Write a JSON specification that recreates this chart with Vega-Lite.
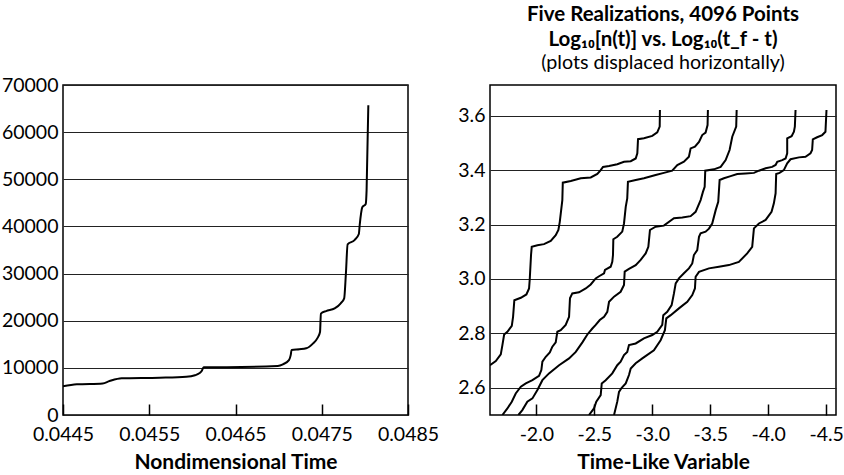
{
  "$schema": "https://vega.github.io/schema/vega-lite/v6.json",
  "background": "white",
  "padding": {"left": 0, "top": 4, "right": 0, "bottom": 0},
  "config": {
    "font": "Lato",
    "view": {"stroke": "#000", "strokeWidth": 1.5},
    "axis": {
      "labelFont": "Lato", "labelFontSize": 19.5, "labelColor": "#000",
      "titleFont": "Lato", "titleFontSize": 21, "titleFontWeight": "bold", "titleColor": "#000",
      "grid": false, "domain": false, "ticks": false, "labelOverlap": false, "labelFlush": false
    }
  },
  "bounds": "flush",
  "spacing": 82,
  "datasets": {
    "left": [
      {"t": 0.04450, "n": 6100}, {"t": 0.04466, "n": 6500}, {"t": 0.04496, "n": 6700}, {"t": 0.04504, "n": 7200},
      {"t": 0.04518, "n": 7780}, {"t": 0.04562, "n": 7900}, {"t": 0.04593, "n": 8100}, {"t": 0.04603, "n": 8420},
      {"t": 0.04608, "n": 8850}, {"t": 0.04611, "n": 9400}, {"t": 0.04613, "n": 10150}, {"t": 0.04640, "n": 10150},
      {"t": 0.04699, "n": 10400}, {"t": 0.04705, "n": 10750}, {"t": 0.04712, "n": 11650}, {"t": 0.04714, "n": 12700},
      {"t": 0.04715, "n": 13800}, {"t": 0.04724, "n": 13950}, {"t": 0.04732, "n": 14150}, {"t": 0.04740, "n": 15200},
      {"t": 0.04745, "n": 16300}, {"t": 0.04748, "n": 17600}, {"t": 0.04749, "n": 21500}, {"t": 0.04755, "n": 22050},
      {"t": 0.04765, "n": 22600}, {"t": 0.04772, "n": 23700}, {"t": 0.04776, "n": 24750}, {"t": 0.04778, "n": 30000},
      {"t": 0.04780, "n": 36200}, {"t": 0.04788, "n": 37100}, {"t": 0.04793, "n": 38400}, {"t": 0.04794, "n": 40300},
      {"t": 0.04797, "n": 44050}, {"t": 0.04801, "n": 44750}, {"t": 0.04802, "n": 47700}, {"t": 0.04804, "n": 65700}
    ],
    "right": [
      {"s": "A", "i": 0, "x": -1.600, "y": 2.683}, {"s": "A", "i": 1, "x": -1.650, "y": 2.698}, {"s": "A", "i": 2, "x": -1.693, "y": 2.723},
      {"s": "A", "i": 3, "x": -1.707, "y": 2.757}, {"s": "A", "i": 4, "x": -1.722, "y": 2.796}, {"s": "A", "i": 5, "x": -1.750, "y": 2.806},
      {"s": "A", "i": 6, "x": -1.788, "y": 2.828}, {"s": "A", "i": 7, "x": -1.799, "y": 2.861}, {"s": "A", "i": 8, "x": -1.810, "y": 2.922},
      {"s": "A", "i": 9, "x": -1.866, "y": 2.931}, {"s": "A", "i": 10, "x": -1.914, "y": 2.943}, {"s": "A", "i": 11, "x": -1.937, "y": 2.965},
      {"s": "A", "i": 12, "x": -1.943, "y": 3.000}, {"s": "A", "i": 13, "x": -1.954, "y": 3.088}, {"s": "A", "i": 14, "x": -1.960, "y": 3.118},
      {"s": "A", "i": 15, "x": -2.009, "y": 3.124}, {"s": "A", "i": 16, "x": -2.066, "y": 3.128}, {"s": "A", "i": 17, "x": -2.124, "y": 3.140},
      {"s": "A", "i": 18, "x": -2.167, "y": 3.161}, {"s": "A", "i": 19, "x": -2.190, "y": 3.180}, {"s": "A", "i": 20, "x": -2.202, "y": 3.210},
      {"s": "A", "i": 21, "x": -2.224, "y": 3.290}, {"s": "A", "i": 22, "x": -2.228, "y": 3.354}, {"s": "A", "i": 23, "x": -2.297, "y": 3.360},
      {"s": "A", "i": 24, "x": -2.383, "y": 3.370}, {"s": "A", "i": 25, "x": -2.469, "y": 3.373}, {"s": "A", "i": 26, "x": -2.526, "y": 3.386},
      {"s": "A", "i": 27, "x": -2.555, "y": 3.400}, {"s": "A", "i": 28, "x": -2.575, "y": 3.412}, {"s": "A", "i": 29, "x": -2.627, "y": 3.415},
      {"s": "A", "i": 30, "x": -2.698, "y": 3.422}, {"s": "A", "i": 31, "x": -2.756, "y": 3.431}, {"s": "A", "i": 32, "x": -2.814, "y": 3.433},
      {"s": "A", "i": 33, "x": -2.857, "y": 3.443}, {"s": "A", "i": 34, "x": -2.871, "y": 3.462}, {"s": "A", "i": 35, "x": -2.877, "y": 3.514},
      {"s": "A", "i": 36, "x": -2.928, "y": 3.517}, {"s": "A", "i": 37, "x": -3.000, "y": 3.526}, {"s": "A", "i": 38, "x": -3.043, "y": 3.539},
      {"s": "A", "i": 39, "x": -3.064, "y": 3.560}, {"s": "A", "i": 40, "x": -3.066, "y": 3.621},

      {"s": "B", "i": 0, "x": -1.707, "y": 2.500}, {"s": "B", "i": 1, "x": -1.750, "y": 2.524}, {"s": "B", "i": 2, "x": -1.788, "y": 2.549},
      {"s": "B", "i": 3, "x": -1.822, "y": 2.579}, {"s": "B", "i": 4, "x": -1.866, "y": 2.604}, {"s": "B", "i": 5, "x": -1.909, "y": 2.616},
      {"s": "B", "i": 6, "x": -1.966, "y": 2.628}, {"s": "B", "i": 7, "x": -2.023, "y": 2.644}, {"s": "B", "i": 8, "x": -2.043, "y": 2.665},
      {"s": "B", "i": 9, "x": -2.052, "y": 2.696}, {"s": "B", "i": 10, "x": -2.081, "y": 2.714}, {"s": "B", "i": 11, "x": -2.116, "y": 2.730},
      {"s": "B", "i": 12, "x": -2.138, "y": 2.751}, {"s": "B", "i": 13, "x": -2.167, "y": 2.767}, {"s": "B", "i": 14, "x": -2.181, "y": 2.806},
      {"s": "B", "i": 15, "x": -2.210, "y": 2.812}, {"s": "B", "i": 16, "x": -2.253, "y": 2.831}, {"s": "B", "i": 17, "x": -2.282, "y": 2.861},
      {"s": "B", "i": 18, "x": -2.290, "y": 2.929}, {"s": "B", "i": 19, "x": -2.310, "y": 2.947}, {"s": "B", "i": 20, "x": -2.368, "y": 2.951},
      {"s": "B", "i": 21, "x": -2.426, "y": 2.965}, {"s": "B", "i": 22, "x": -2.469, "y": 2.980}, {"s": "B", "i": 23, "x": -2.512, "y": 3.002},
      {"s": "B", "i": 24, "x": -2.541, "y": 3.010}, {"s": "B", "i": 25, "x": -2.584, "y": 3.021}, {"s": "B", "i": 26, "x": -2.592, "y": 3.033},
      {"s": "B", "i": 27, "x": -2.641, "y": 3.045}, {"s": "B", "i": 28, "x": -2.655, "y": 3.063}, {"s": "B", "i": 29, "x": -2.661, "y": 3.088},
      {"s": "B", "i": 30, "x": -2.664, "y": 3.146}, {"s": "B", "i": 31, "x": -2.698, "y": 3.155}, {"s": "B", "i": 32, "x": -2.741, "y": 3.174},
      {"s": "B", "i": 33, "x": -2.756, "y": 3.204}, {"s": "B", "i": 34, "x": -2.771, "y": 3.265}, {"s": "B", "i": 35, "x": -2.784, "y": 3.296},
      {"s": "B", "i": 36, "x": -2.790, "y": 3.357}, {"s": "B", "i": 37, "x": -2.857, "y": 3.364}, {"s": "B", "i": 38, "x": -2.928, "y": 3.370},
      {"s": "B", "i": 39, "x": -3.029, "y": 3.382}, {"s": "B", "i": 40, "x": -3.100, "y": 3.390}, {"s": "B", "i": 41, "x": -3.172, "y": 3.398},
      {"s": "B", "i": 42, "x": -3.216, "y": 3.419}, {"s": "B", "i": 43, "x": -3.273, "y": 3.431}, {"s": "B", "i": 44, "x": -3.316, "y": 3.449},
      {"s": "B", "i": 45, "x": -3.331, "y": 3.480}, {"s": "B", "i": 46, "x": -3.368, "y": 3.486}, {"s": "B", "i": 47, "x": -3.403, "y": 3.504},
      {"s": "B", "i": 48, "x": -3.431, "y": 3.529}, {"s": "B", "i": 49, "x": -3.460, "y": 3.538}, {"s": "B", "i": 50, "x": -3.477, "y": 3.566},
      {"s": "B", "i": 51, "x": -3.480, "y": 3.621},

      {"s": "C", "i": 0, "x": -1.845, "y": 2.500}, {"s": "C", "i": 1, "x": -1.879, "y": 2.518}, {"s": "C", "i": 2, "x": -1.922, "y": 2.549},
      {"s": "C", "i": 3, "x": -1.966, "y": 2.561}, {"s": "C", "i": 4, "x": -2.009, "y": 2.592}, {"s": "C", "i": 5, "x": -2.052, "y": 2.628},
      {"s": "C", "i": 6, "x": -2.109, "y": 2.653}, {"s": "C", "i": 7, "x": -2.196, "y": 2.683}, {"s": "C", "i": 8, "x": -2.282, "y": 2.708},
      {"s": "C", "i": 9, "x": -2.340, "y": 2.732}, {"s": "C", "i": 10, "x": -2.397, "y": 2.767}, {"s": "C", "i": 11, "x": -2.440, "y": 2.796},
      {"s": "C", "i": 12, "x": -2.483, "y": 2.818}, {"s": "C", "i": 13, "x": -2.512, "y": 2.831}, {"s": "C", "i": 14, "x": -2.547, "y": 2.849},
      {"s": "C", "i": 15, "x": -2.584, "y": 2.861}, {"s": "C", "i": 16, "x": -2.612, "y": 2.879}, {"s": "C", "i": 17, "x": -2.627, "y": 2.916},
      {"s": "C", "i": 18, "x": -2.670, "y": 2.935}, {"s": "C", "i": 19, "x": -2.727, "y": 2.953}, {"s": "C", "i": 20, "x": -2.756, "y": 2.978},
      {"s": "C", "i": 21, "x": -2.762, "y": 3.027}, {"s": "C", "i": 22, "x": -2.799, "y": 3.037}, {"s": "C", "i": 23, "x": -2.857, "y": 3.051},
      {"s": "C", "i": 24, "x": -2.900, "y": 3.070}, {"s": "C", "i": 25, "x": -2.943, "y": 3.094}, {"s": "C", "i": 26, "x": -2.966, "y": 3.118},
      {"s": "C", "i": 27, "x": -2.980, "y": 3.180}, {"s": "C", "i": 28, "x": -3.029, "y": 3.192}, {"s": "C", "i": 29, "x": -3.100, "y": 3.196},
      {"s": "C", "i": 30, "x": -3.187, "y": 3.223}, {"s": "C", "i": 31, "x": -3.259, "y": 3.226}, {"s": "C", "i": 32, "x": -3.331, "y": 3.231},
      {"s": "C", "i": 33, "x": -3.374, "y": 3.247}, {"s": "C", "i": 34, "x": -3.417, "y": 3.290}, {"s": "C", "i": 35, "x": -3.437, "y": 3.320},
      {"s": "C", "i": 36, "x": -3.452, "y": 3.339}, {"s": "C", "i": 37, "x": -3.457, "y": 3.398}, {"s": "C", "i": 38, "x": -3.532, "y": 3.403},
      {"s": "C", "i": 39, "x": -3.590, "y": 3.412}, {"s": "C", "i": 40, "x": -3.633, "y": 3.437}, {"s": "C", "i": 41, "x": -3.667, "y": 3.474},
      {"s": "C", "i": 42, "x": -3.690, "y": 3.523}, {"s": "C", "i": 43, "x": -3.724, "y": 3.560}, {"s": "C", "i": 44, "x": -3.728, "y": 3.621},

      {"s": "D", "i": 0, "x": -2.454, "y": 2.500}, {"s": "D", "i": 1, "x": -2.497, "y": 2.524}, {"s": "D", "i": 2, "x": -2.517, "y": 2.549},
      {"s": "D", "i": 3, "x": -2.555, "y": 2.573}, {"s": "D", "i": 4, "x": -2.564, "y": 2.616}, {"s": "D", "i": 5, "x": -2.598, "y": 2.628},
      {"s": "D", "i": 6, "x": -2.655, "y": 2.653}, {"s": "D", "i": 7, "x": -2.698, "y": 2.683}, {"s": "D", "i": 8, "x": -2.727, "y": 2.696},
      {"s": "D", "i": 9, "x": -2.756, "y": 2.720}, {"s": "D", "i": 10, "x": -2.784, "y": 2.732}, {"s": "D", "i": 11, "x": -2.799, "y": 2.757},
      {"s": "D", "i": 12, "x": -2.857, "y": 2.763}, {"s": "D", "i": 13, "x": -2.928, "y": 2.782}, {"s": "D", "i": 14, "x": -3.000, "y": 2.794},
      {"s": "D", "i": 15, "x": -3.043, "y": 2.806}, {"s": "D", "i": 16, "x": -3.086, "y": 2.831}, {"s": "D", "i": 17, "x": -3.095, "y": 2.867},
      {"s": "D", "i": 18, "x": -3.129, "y": 2.879}, {"s": "D", "i": 19, "x": -3.167, "y": 2.904}, {"s": "D", "i": 20, "x": -3.187, "y": 2.947},
      {"s": "D", "i": 21, "x": -3.202, "y": 2.984}, {"s": "D", "i": 22, "x": -3.230, "y": 3.002}, {"s": "D", "i": 23, "x": -3.273, "y": 3.021},
      {"s": "D", "i": 24, "x": -3.316, "y": 3.039}, {"s": "D", "i": 25, "x": -3.345, "y": 3.057}, {"s": "D", "i": 26, "x": -3.359, "y": 3.088},
      {"s": "D", "i": 27, "x": -3.388, "y": 3.106}, {"s": "D", "i": 28, "x": -3.403, "y": 3.155}, {"s": "D", "i": 29, "x": -3.417, "y": 3.168},
      {"s": "D", "i": 30, "x": -3.460, "y": 3.174}, {"s": "D", "i": 31, "x": -3.489, "y": 3.185}, {"s": "D", "i": 32, "x": -3.517, "y": 3.204},
      {"s": "D", "i": 33, "x": -3.547, "y": 3.253}, {"s": "D", "i": 34, "x": -3.569, "y": 3.284}, {"s": "D", "i": 35, "x": -3.581, "y": 3.364},
      {"s": "D", "i": 36, "x": -3.618, "y": 3.370}, {"s": "D", "i": 37, "x": -3.676, "y": 3.378}, {"s": "D", "i": 38, "x": -3.733, "y": 3.386},
      {"s": "D", "i": 39, "x": -3.805, "y": 3.388}, {"s": "D", "i": 40, "x": -3.877, "y": 3.390}, {"s": "D", "i": 41, "x": -3.920, "y": 3.398},
      {"s": "D", "i": 42, "x": -3.978, "y": 3.407}, {"s": "D", "i": 43, "x": -4.034, "y": 3.412}, {"s": "D", "i": 44, "x": -4.064, "y": 3.419},
      {"s": "D", "i": 45, "x": -4.078, "y": 3.431}, {"s": "D", "i": 46, "x": -4.121, "y": 3.437}, {"s": "D", "i": 47, "x": -4.150, "y": 3.443},
      {"s": "D", "i": 48, "x": -4.164, "y": 3.462}, {"s": "D", "i": 49, "x": -4.164, "y": 3.517}, {"s": "D", "i": 50, "x": -4.202, "y": 3.525},
      {"s": "D", "i": 51, "x": -4.222, "y": 3.541}, {"s": "D", "i": 52, "x": -4.230, "y": 3.560}, {"s": "D", "i": 53, "x": -4.236, "y": 3.621},

      {"s": "E", "i": 0, "x": -2.670, "y": 2.500}, {"s": "E", "i": 1, "x": -2.698, "y": 2.549}, {"s": "E", "i": 2, "x": -2.713, "y": 2.585},
      {"s": "E", "i": 3, "x": -2.736, "y": 2.600}, {"s": "E", "i": 4, "x": -2.771, "y": 2.616}, {"s": "E", "i": 5, "x": -2.799, "y": 2.647},
      {"s": "E", "i": 6, "x": -2.814, "y": 2.671}, {"s": "E", "i": 7, "x": -2.857, "y": 2.690}, {"s": "E", "i": 8, "x": -2.914, "y": 2.708},
      {"s": "E", "i": 9, "x": -3.014, "y": 2.738}, {"s": "E", "i": 10, "x": -3.072, "y": 2.775}, {"s": "E", "i": 11, "x": -3.109, "y": 2.812},
      {"s": "E", "i": 12, "x": -3.121, "y": 2.855}, {"s": "E", "i": 13, "x": -3.159, "y": 2.867}, {"s": "E", "i": 14, "x": -3.230, "y": 2.892},
      {"s": "E", "i": 15, "x": -3.302, "y": 2.916}, {"s": "E", "i": 16, "x": -3.345, "y": 2.941}, {"s": "E", "i": 17, "x": -3.368, "y": 2.965},
      {"s": "E", "i": 18, "x": -3.374, "y": 3.008}, {"s": "E", "i": 19, "x": -3.403, "y": 3.026}, {"s": "E", "i": 20, "x": -3.489, "y": 3.039},
      {"s": "E", "i": 21, "x": -3.575, "y": 3.045}, {"s": "E", "i": 22, "x": -3.661, "y": 3.051}, {"s": "E", "i": 23, "x": -3.747, "y": 3.063},
      {"s": "E", "i": 24, "x": -3.819, "y": 3.094}, {"s": "E", "i": 25, "x": -3.862, "y": 3.118}, {"s": "E", "i": 26, "x": -3.877, "y": 3.186},
      {"s": "E", "i": 27, "x": -3.920, "y": 3.204}, {"s": "E", "i": 28, "x": -3.978, "y": 3.217}, {"s": "E", "i": 29, "x": -4.029, "y": 3.247},
      {"s": "E", "i": 30, "x": -4.049, "y": 3.278}, {"s": "E", "i": 31, "x": -4.064, "y": 3.315}, {"s": "E", "i": 32, "x": -4.069, "y": 3.386},
      {"s": "E", "i": 33, "x": -4.098, "y": 3.390}, {"s": "E", "i": 34, "x": -4.135, "y": 3.400}, {"s": "E", "i": 35, "x": -4.164, "y": 3.425},
      {"s": "E", "i": 36, "x": -4.193, "y": 3.440}, {"s": "E", "i": 37, "x": -4.265, "y": 3.447}, {"s": "E", "i": 38, "x": -4.322, "y": 3.449},
      {"s": "E", "i": 39, "x": -4.365, "y": 3.462}, {"s": "E", "i": 40, "x": -4.379, "y": 3.474}, {"s": "E", "i": 41, "x": -4.385, "y": 3.513},
      {"s": "E", "i": 42, "x": -4.422, "y": 3.521}, {"s": "E", "i": 43, "x": -4.466, "y": 3.529}, {"s": "E", "i": 44, "x": -4.494, "y": 3.541},
      {"s": "E", "i": 45, "x": -4.503, "y": 3.621}
    ]
  },
  "hconcat": [
    {
      "width": 345,
      "height": 330,
      "data": {"name": "left"},
      "mark": {"type": "line", "color": "#000", "strokeWidth": 2, "interpolate": "monotone"},
      "encoding": {
        "x": {
          "field": "t", "type": "quantitative",
          "scale": {"domain": [0.0445, 0.0485], "nice": false, "zero": false},
          "axis": {
            "values": [0.0445, 0.0455, 0.0465, 0.0475, 0.0485], "format": ".4f",
            "title": "Nondimensional Time", "ticks": true, "tickSize": -11, "tickColor": "#000", "tickWidth": 1.5,
            "labelPadding": 21, "titlePadding": 8
          }
        },
        "y": {
          "field": "n", "type": "quantitative",
          "scale": {"domain": [0, 70000], "nice": false},
          "axis": {
            "values": [0, 10000, 20000, 30000, 40000, 50000, 60000, 70000], "format": "d",
            "grid": true, "gridColor": "#222", "gridWidth": 1, "title": null, "labelPadding": 5
          }
        }
      }
    },
    {
      "width": 346,
      "height": 330,
      "title": {
        "text": ["Five Realizations, 4096 Points", "Log₁₀[n(t)] vs. Log₁₀(t_f - t)"],
        "subtitle": "(plots displaced horizontally)",
        "font": "Lato", "subtitleFont": "Lato",
        "fontSize": 20.5, "fontWeight": "bold", "subtitleFontSize": 19.7,
        "lineHeight": 25, "subtitleLineHeight": 24, "subtitlePadding": 3,
        "anchor": "middle", "offset": 12, "color": "#000", "subtitleColor": "#000"
      },
      "data": {"name": "right"},
      "mark": {"type": "line", "color": "#000", "strokeWidth": 2, "clip": true},
      "encoding": {
        "x": {
          "field": "x", "type": "quantitative",
          "scale": {"domain": [-4.585, -1.6], "reverse": true, "nice": false, "zero": false},
          "axis": {
            "values": [-2, -2.5, -3, -3.5, -4, -4.5],
            "labelExpr": "(datum.value < 0 ? '-' : '') + format(abs(datum.value), '.1f')",
            "title": "Time-Like Variable", "ticks": true, "tickSize": -11, "tickColor": "#000", "tickWidth": 1.5,
            "labelPadding": 21, "titlePadding": 8
          }
        },
        "y": {
          "field": "y", "type": "quantitative",
          "scale": {"domain": [2.5, 3.713], "nice": false, "zero": false},
          "axis": {
            "values": [2.6, 2.8, 3.0, 3.2, 3.4, 3.6], "format": ".1f",
            "grid": true, "gridColor": "#222", "gridWidth": 1, "title": null, "labelPadding": 5
          }
        },
        "detail": {"field": "s", "type": "nominal"},
        "order": {"field": "i", "type": "quantitative"}
      }
    }
  ]
}
